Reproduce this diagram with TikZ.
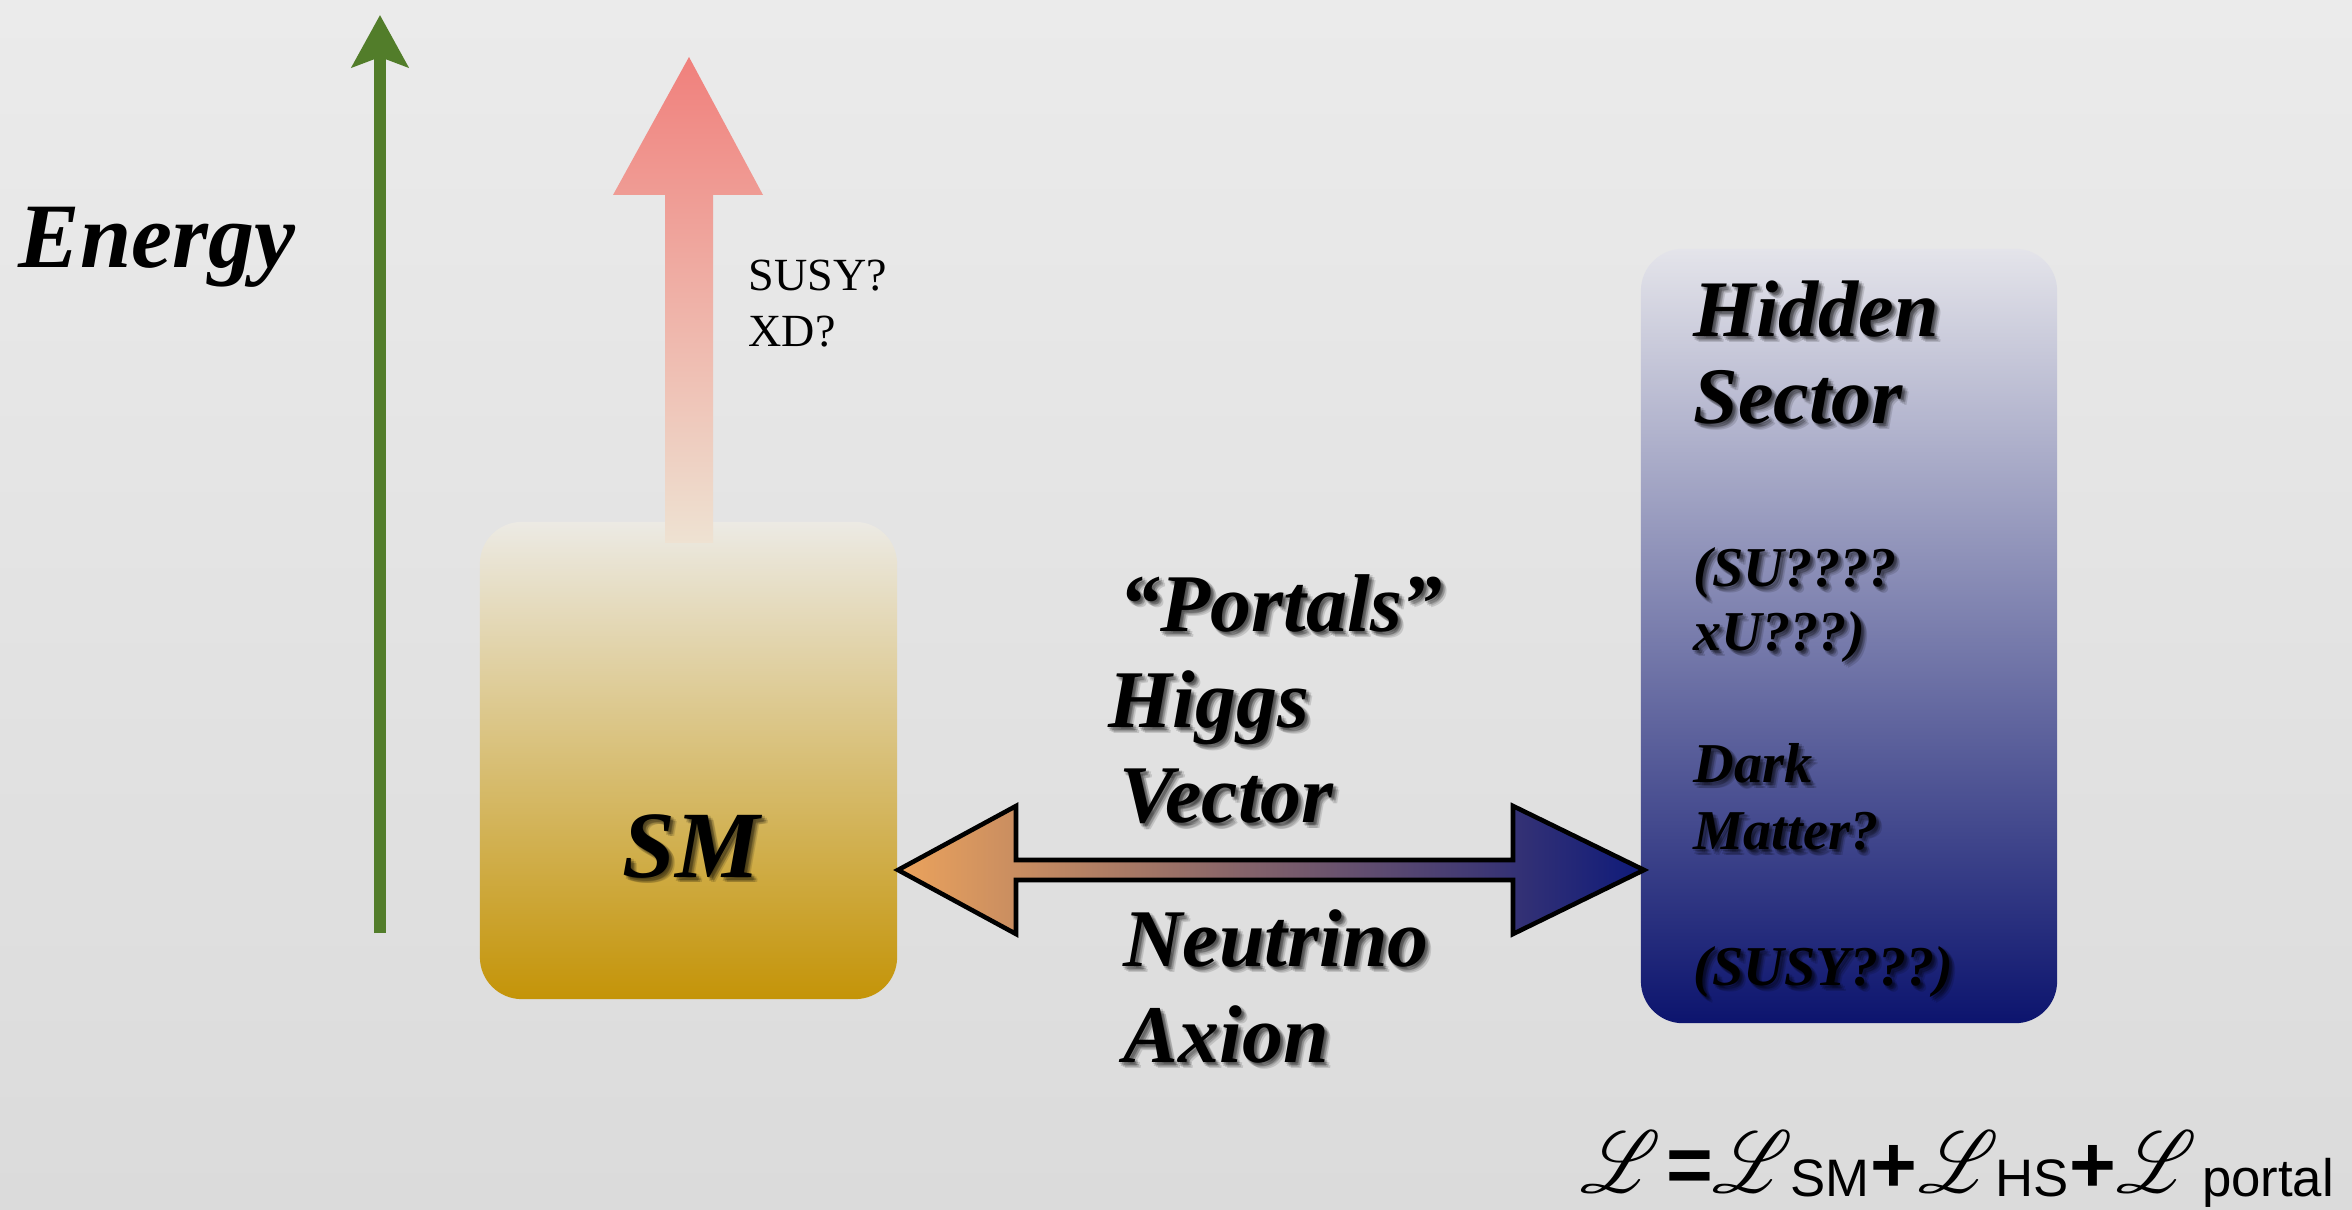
\documentclass[tikz,border=0pt]{standalone}
\usepackage{fontspec}
\setmainfont{Liberation Serif}
\setsansfont{Liberation Sans}
\usepackage{mathrsfs}
\usetikzlibrary{arrows.meta,calc}
\definecolor{bgA}{RGB}{235,235,235}
\definecolor{bgB}{RGB}{219,219,219}
\definecolor{egreen}{RGB}{82,125,42}
\definecolor{pinkT}{RGB}{240,128,124}
\definecolor{pinkB}{RGB}{238,226,210}
\definecolor{smT}{RGB}{236,234,228}
\definecolor{smB}{RGB}{196,148,8}
\definecolor{hsT}{RGB}{228,228,234}
\definecolor{hsB}{RGB}{12,20,110}
\definecolor{portL}{RGB}{236,163,92}
\definecolor{portR}{RGB}{14,26,122}
\newcommand\fsz[1]{\fontsize{#1}{#1}\selectfont}
\newcommand\scrL{\scalebox{0.86}[1]{\fsz{28}$\mathscr{L}$}}
\tikzset{
  lbl/.style={inner sep=0pt, anchor=base west},
  boxnode/.style={inner sep=0pt, rounded corners=0.42cm, draw=none},
  fl/.style={inner sep=0pt, anchor=base},
  fop/.style={inner sep=0pt, anchor=base, font={\sffamily\bfseries\fsz{22.8}}},
  fsub/.style={inner sep=0pt, anchor=base, font={\sffamily\fsz{15}}},
}
\newcommand\shlabel[5]{%
  \foreach \dx/\dy [count=\k] in {1/2,3/1,5/3,4/5,2/4,3/3,6/6}{
    \node[lbl, font={\bfseries\itshape\fsz{#4}}, text=black, opacity=0.13] (#1-s\k) at (#2+\dx,#3+\dy) {#5};
  }
  \node[lbl, font={\bfseries\itshape\fsz{#4}}] (#1) at (#2,#3) {#5};
}
\begin{document}
\begin{tikzpicture}[x=0.01cm,y=-0.01cm]
% background
\shade[top color=bgA, bottom color=bgB] (0,0) rectangle (2352,1210);
\useasboundingbox (0,0) rectangle (2352,1210);

% energy axis
\coordinate (e0) at (380,933);
\coordinate (e1) at (380,15);
\draw[egreen, line width=0.12cm, -{Stealth[length=0.52cm,width=0.56cm,inset=0.1cm]}] (e0) -- (e1);
\node[lbl, font={\bfseries\itshape\fsz{26.2}}] (energy) at (18,268) {Energy};

% SM box
\node[boxnode, top color=smT, bottom color=smB, minimum width=4.17cm, minimum height=4.77cm] (sm) at (688.5,760.5) {};

% pink arrow
\coordinate (pb) at (689,543);
\coordinate (pt) at (689,57);
\shade[top color=pinkT, bottom color=pinkB]
  ($(pb)+(-24,0)$) -- ($(pb)+(24,0)$) -- ($(pt)+(24,138)$) -- ($(pt)+(74,138)$) -- (pt)
  -- ($(pt)+(-76,138)$) -- ($(pt)+(-24,138)$) -- cycle;
\node[lbl, font=\fsz{13.1}] (susy) at (748,291) {SUSY?};
\node[lbl, font=\fsz{13.1}] (xd) at (748,347) {XD?};

% hidden sector box
\node[boxnode, top color=hsT, bottom color=hsB, minimum width=4.16cm, minimum height=7.74cm] (hs) at (1849,636) {};

% portal double arrow
\coordinate (pl) at (898,870);
\coordinate (pr) at (1644,870);
\shade[left color=portL, right color=portR, draw=black, line width=1.3pt, line join=miter]
  (pl) -- ($(pl)+(118,-64)$) -- ($(pl)+(118,-10)$) -- ($(pr)+(-131,-10)$) -- ($(pr)+(-131,-64)$)
  -- (pr) -- ($(pr)+(-131,64)$) -- ($(pr)+(-131,10)$) -- ($(pl)+(118,10)$) -- ($(pl)+(118,64)$) -- cycle;

% SM label
\shlabel{smlbl}{622}{877}{27}{SM}

% portal labels
\shlabel{portals}{1119}{632}{23.3}{“Portals”}
\shlabel{higgs}{1108}{728}{23.3}{Higgs}
\shlabel{vector}{1119}{823}{23.3}{Vector}
\shlabel{neutrino}{1123}{966}{23.3}{Neutrino}
\shlabel{axion}{1123}{1062}{23.3}{Axion}

% hidden sector labels
\shlabel{hidden}{1693}{337}{22.8}{Hidden}
\shlabel{sector}{1693}{424}{22.8}{Sector}
\shlabel{su}{1693}{587}{16}{(SU????}
\shlabel{xu}{1693}{651}{16}{xU???)}
\shlabel{dark}{1693}{783}{16}{Dark}
\shlabel{matter}{1693}{850}{16}{Matter?}
\shlabel{susyq}{1693}{985}{16}{(SUSY???)}

% Lagrangian
\node[fl] (L0) at (1621,1192) {\scrL};
\node[fop] (eq) at (1690,1192) {=};
\node[fl] (L1) at (1753,1192) {\scrL};
\node[fsub] (sSM) at (1830,1196) {SM};
\node[fop] (p1) at (1894,1192) {+};
\node[fl] (L2) at (1959,1192) {\scrL};
\node[fsub] (sHS) at (2032,1196) {HS};
\node[fop] (p2) at (2093,1192) {+};
\node[fl] (L3) at (2157,1192) {\scrL};
\node[fsub] (sP) at (2268,1196) {portal};
\end{tikzpicture}
\end{document}
